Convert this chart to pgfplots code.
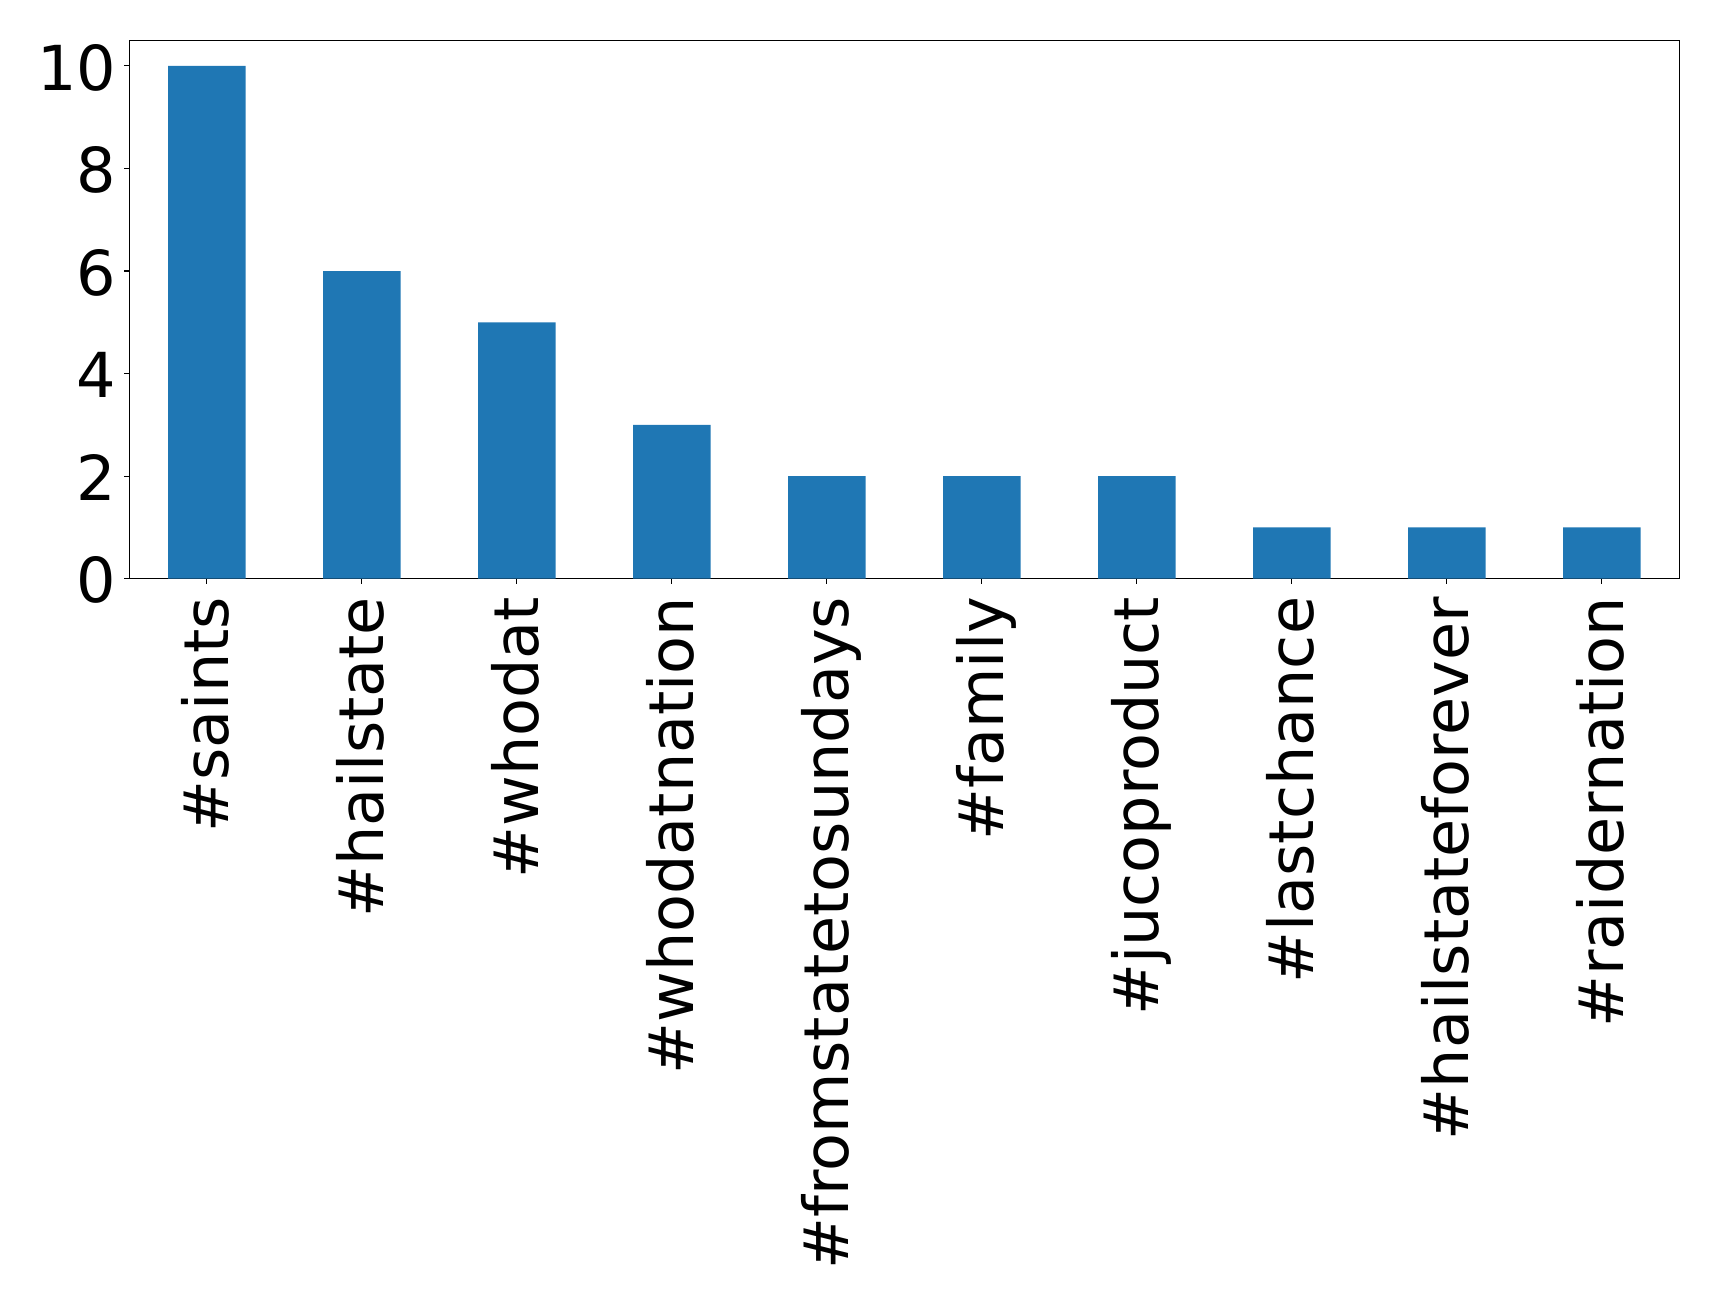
\documentclass[border=0pt]{standalone}
\usepackage{pgfplots}
\pgfplotsset{compat=1.18}
\usepackage{fontspec}
\setmainfont{DejaVu Sans}
\definecolor{mplblue}{HTML}{1F77B4}
\begin{document}
\begin{tikzpicture}
\begin{axis}[
  scale only axis,
  width=775pt, height=269.2pt,
  at={(0,0)}, anchor=south west,
  xmin=-0.5, xmax=9.5, ymin=0, ymax=10.5,
  enlargelimits=false,
  xtick={0,1,...,9},
  xticklabels={\#saints,\#hailstate,\#whodat,\#whodatnation,\#fromstatetosundays,\#family,\#jucoproduct,\#lastchance,\#hailstateforever,\#raidernation},
  ytick={0,2,4,6,8,10},
  xtick pos=bottom, ytick pos=left,
  tick align=outside,
  major tick length=2.4pt,
  tick style={black, line width=0.55pt},
  axis line style={black, line width=0.6pt},
  /pgf/number format/assume math mode=true,
  xticklabel style={rotate=90, anchor=east, font=\fontsize{31}{37}\selectfont, text height=22pt, text depth=0pt, inner xsep=6.5pt, inner ysep=0pt},
  yticklabel style={anchor=east, font=\fontsize{31}{37}\selectfont, text height=24.2pt, text depth=0pt, inner xsep=3.9pt, inner ysep=0pt},
]
\addplot[ybar, bar width=0.5, fill=mplblue, draw=none] coordinates {
(0,10) (1,6) (2,5) (3,3) (4,2) (5,2) (6,2) (7,1) (8,1) (9,1)
};
\end{axis}
\pgfresetboundingbox
\useasboundingbox (-64.65pt,-363.65pt) rectangle (794.85pt,289.35pt);
\end{tikzpicture}
\end{document}
